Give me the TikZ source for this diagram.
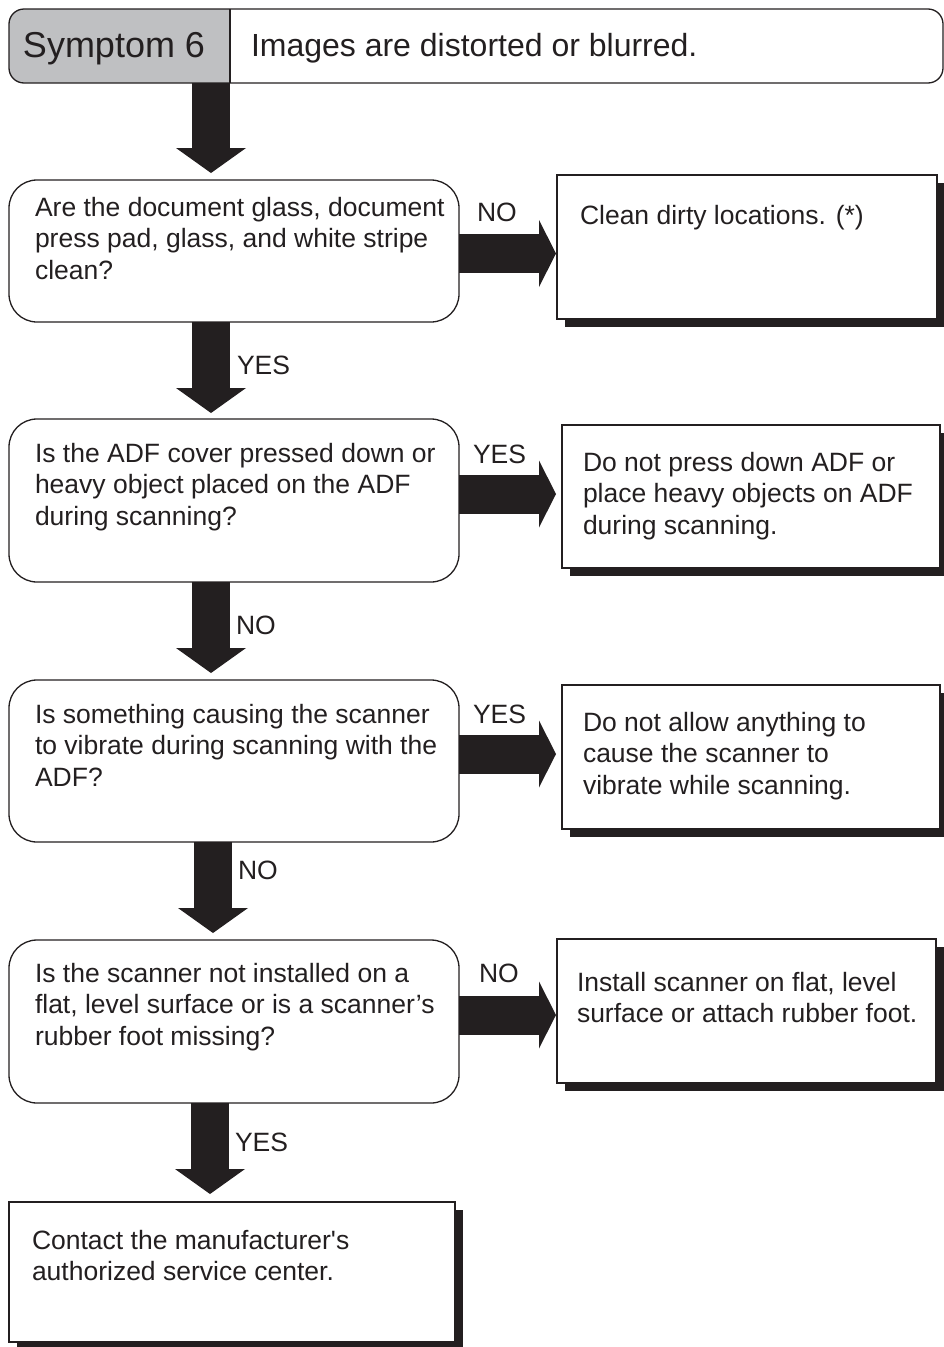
\documentclass[tikz,border=0pt]{standalone}
\usepackage{fontspec}
\setmainfont{Liberation Sans}[Ligatures=TeXOff]
\usetikzlibrary{arrows.meta,shadows,calc}
\definecolor{ink}{HTML}{231F20}
\definecolor{hgray}{HTML}{BFC0C2}
\begin{document}
\begin{tikzpicture}[x=1pt,y=-1pt,
  every node/.style={inner sep=0pt, outer sep=0pt},
  txt/.style={anchor=north west, align=left, text=ink, font=\fontsize{26.5}{31.6}\selectfont},
  lbl/.style={anchor=north west, text=ink, font=\fontsize{26.5}{31.6}\selectfont},
  qbox/.style={draw=ink, line width=1.3pt, rounded corners=28pt, anchor=north west, minimum width=450pt},
  abox/.style={draw=ink, line width=1.3pt, fill=white, anchor=north west,
    drop shadow={shadow xshift=8pt, shadow yshift=-8pt, opacity=1, fill=ink}},
  varrow/.style={draw=ink, line width=38pt, -{Triangle[length=25pt, width=70pt, line width=0pt]}},
  harrow/.style={draw=ink, line width=39pt, -{Triangle[length=17pt, width=67pt, line width=0pt]}},
]
\useasboundingbox (0,0) rectangle (944,1347);

% header
\fill[hgray, rounded corners=15pt] (230,9) -- (9,9) -- (9,83) -- (230,83);
\node[draw=ink, line width=1.3pt, rounded corners=15pt, anchor=north west,
  minimum width=934pt, minimum height=74pt] (h) at (9,9) {};
\coordinate (hd) at (230,46);
\draw[ink, line width=1.3pt] (h.north -| hd) -- (h.south -| hd);
\node[anchor=base west, text=ink, font=\fontsize{36}{40}\selectfont] (hs) at (23,57) {Symptom 6};
\node[anchor=base west, text=ink, font=\fontsize{32}{38}\selectfont] (ht) at (251,56) {Images are distorted or blurred.};

% question boxes
\node[qbox, minimum height=142pt] (b1) at (9,180) {};
\node[qbox, minimum height=163pt] (b2) at (9,419) {};
\node[qbox, minimum height=162pt] (b3) at (9,680) {};
\node[qbox, minimum height=163pt] (b4) at (9,940) {};
\node[abox, minimum width=446pt, minimum height=140pt] (b5) at (9,1202) {};

% answer boxes
\node[abox, minimum width=380pt, minimum height=144pt] (r1) at (557,175) {};
\node[abox, minimum width=378pt, minimum height=143pt] (r2) at (562,425) {};
\node[abox, minimum width=378pt, minimum height=144pt] (r3) at (562,685) {};
\node[abox, minimum width=379pt, minimum height=144pt] (r4) at (557,939) {};

% texts
\node[txt] (b1t) at (35,197) {Are the document glass, document\\press pad, glass, and white stripe\\clean?};
\node[txt] (b2t) at (35,443) {Is the ADF cover pressed down or\\heavy object placed on the ADF\\during scanning?};
\node[txt] (b3t) at (35,704) {Is something causing the scanner\\to vibrate during scanning with the\\ADF?};
\node[txt] (b4t) at (35,963) {Is the scanner not installed on a\\flat, level surface or is a scanner’s\\rubber foot missing?};
\node[txt] (b5t) at (32,1230) {Contact the manufacturer's\\authorized service center.};
\node[txt] (r1t) at (580,205) {Clean dirty locations. (*)};
\node[txt] (r2t) at (583,452) {Do not press down ADF or\\place heavy objects on ADF\\during scanning.};
\node[txt] (r3t) at (583,712) {Do not allow anything to\\cause the scanner to\\vibrate while scanning.};
\node[txt] (r4t) at (577,972) {Install scanner on flat, level\\surface or attach rubber foot.};

% vertical arrows
\coordinate (x1) at (211,0);
\coordinate (x4) at (213,0);
\coordinate (x5) at (210,0);
\draw[varrow, shorten >=7pt] (h.south -| x1) -- (b1.north -| x1);
\draw[varrow, shorten >=6pt] (b1.south -| x1) -- (b2.north -| x1);
\draw[varrow, shorten >=7pt] (b2.south -| x1) -- (b3.north -| x1);
\draw[varrow, shorten >=7pt] (b3.south -| x4) -- (b4.north -| x4);
\draw[varrow, shorten >=8pt] (b4.south -| x5) -- (b5.north -| x5);

% horizontal arrows
\coordinate (y1) at (0,253.5);
\coordinate (y2) at (0,494);
\coordinate (y3) at (0,754);
\coordinate (y4) at (0,1015);
\draw[harrow, shorten >=1pt] (b1.east |- y1) -- (r1.west |- y1);
\draw[harrow, shorten >=6pt] (b2.east |- y2) -- (r2.west |- y2);
\draw[harrow, shorten >=6pt] (b3.east |- y3) -- (r3.west |- y3);
\draw[harrow, shorten >=1pt] (b4.east |- y4) -- (r4.west |- y4);

% labels
\node[lbl] (l1) at (477,203) {NO};
\node[lbl] (l2) at (473,445) {YES};
\node[lbl] (l3) at (473,705) {YES};
\node[lbl] (l4) at (479,964) {NO};
\node[lbl] (d1) at (237,356) {YES};
\node[lbl] (d2) at (236,616) {NO};
\node[lbl] (d3) at (238,861) {NO};
\node[lbl] (d4) at (235,1133) {YES};
\end{tikzpicture}
\end{document}
